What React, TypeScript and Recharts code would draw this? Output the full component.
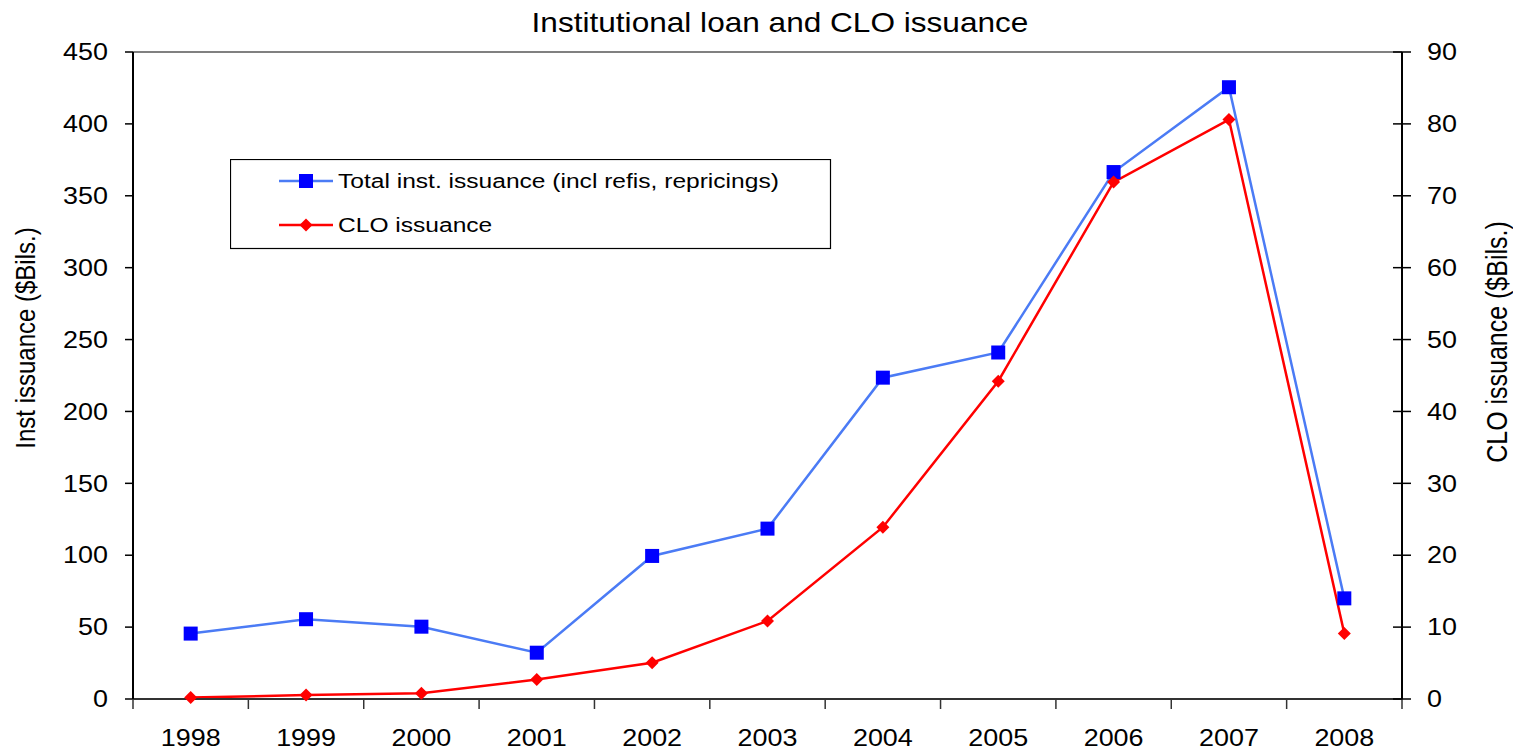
import { LineChart, Line, XAxis, YAxis, Legend, ReferenceLine } from 'recharts';

const years = ['1998', '1999', '2000', '2001', '2002', '2003', '2004', '2005', '2006', '2007', '2008'];
// Total inst. issuance, left axis ($Bils.)
const instIssuance = [45.5, 55.5, 50.3, 32.2, 99.5, 118.5, 223.5, 241, 366.5, 425.5, 70];
// CLO issuance, right axis ($Bils.)
const cloIssuance = [0.2, 0.55, 0.8, 2.7, 5.05, 10.85, 23.9, 44.2, 71.9, 80.6, 9.1];
const leftTicks = [0, 50, 100, 150, 200, 250, 300, 350, 400, 450];
const rightTicks = [0, 10, 20, 30, 40, 50, 60, 70, 80, 90];
const legendOrder = ['inst', 'clo'];

const FONT = '"Liberation Sans", Arial, sans-serif';
const STRETCH = 1.17;
const BLUE_LINE = '#4B7BF5';
const BLUE_MARK = '#0000FF';
const RED = '#FF0000';

const chartData = years.map((year, i) => ({ x: i, year, inst: instIssuance[i], clo: cloIssuance[i] }));

// labels sit on the categories, tick marks sit between them
const xTicks = years.flatMap((_, i) => (i === 0 ? [-0.5, 0, 0.5] : [i, i + 0.5]));

function XTick(props: any) {
  const { x, y, payload } = props;
  const v = payload.value as number;
  if (!Number.isInteger(v)) {
    return <line x1={x} y1={y} x2={x} y2={y + 10} stroke="#333" strokeWidth={1.5} />;
  }
  return (
    <text transform={`translate(${x},${y + 47}) scale(${STRETCH},1)`} textAnchor="middle" fontFamily={FONT} fontSize={23} fill="#000">
      {years[v]}
    </text>
  );
}

function LeftTick(props: any) {
  const { x, y, payload } = props;
  return (
    <text transform={`translate(${x},${y}) scale(${STRETCH},1)`} textAnchor="end" dy="0.355em" fontFamily={FONT} fontSize={23} fill="#000">
      {payload.value}
    </text>
  );
}

function RightTick(props: any) {
  const { x, y, payload } = props;
  return (
    <g>
      <line x1={x - 34} y1={y} x2={x - 16} y2={y} stroke="#000" strokeWidth={1.5} />
      <text transform={`translate(${x},${y}) scale(${STRETCH},1)`} textAnchor="start" dy="0.355em" fontFamily={FONT} fontSize={23} fill="#000">
        {payload.value}
      </text>
    </g>
  );
}

function SquareDot(props: any) {
  const { cx, cy, index } = props;
  if (cx == null || cy == null) return <g key={`sq-${index}`} />;
  return <rect key={`sq-${index}`} x={cx - 7} y={cy - 7} width={14} height={14} fill={BLUE_MARK} />;
}

function DiamondDot(props: any) {
  const { cx, cy, index } = props;
  if (cx == null || cy == null) return <g key={`dm-${index}`} />;
  const r = 6.5;
  return <path key={`dm-${index}`} d={`M${cx},${cy - r}L${cx + r},${cy}L${cx},${cy + r}L${cx - r},${cy}Z`} fill={RED} />;
}

function LegendBox({ payload }: any) {
  const items = [...(payload || [])].sort(
    (a: any, b: any) => legendOrder.indexOf(a.dataKey) - legendOrder.indexOf(b.dataKey)
  );
  return (
    <svg width={602} height={91} style={{ display: 'block' }}>
      <rect x={0.5} y={0.5} width={600} height={89} fill="#fff" stroke="#000" strokeWidth={1.2} />
      {items.map((entry: any, i: number) => {
        const cy = 22 + i * 44;
        const isInst = entry.dataKey === 'inst';
        return (
          <g key={entry.value}>
            <line x1={49} y1={cy} x2={103} y2={cy} stroke={isInst ? BLUE_LINE : RED} strokeWidth={2.5} />
            {isInst ? (
              <rect x={69} y={cy - 7} width={14} height={14} fill={BLUE_MARK} />
            ) : (
              <path d={`M76,${cy - 6.5}L82.5,${cy}L76,${cy + 6.5}L69.5,${cy}Z`} fill={RED} />
            )}
            <text transform={`translate(108,${cy}) scale(${STRETCH},1)`} dy="0.355em" fontFamily={FONT} fontSize={21} fill="#000">
              {entry.value}
            </text>
          </g>
        );
      })}
    </svg>
  );
}

export default function App() {
  return (
    <div style={{ position: 'absolute', left: 0, top: 0, width: 1513, height: 751, background: '#fff', fontFamily: FONT }}>
      <LineChart width={1513} height={751} data={chartData} margin={{ top: 52, right: 0, left: 0, bottom: 0 }}>
        <XAxis
          dataKey="x"
          type="number"
          domain={[-0.5, 10.5]}
          ticks={xTicks}
          interval={0}
          height={52}
          tickSize={0}
          tickMargin={0}
          tickLine={false}
          tick={<XTick />}
          axisLine={{ stroke: '#333', strokeWidth: 2 }}
          allowDataOverflow
        />
        <YAxis
          yAxisId="left"
          orientation="left"
          domain={[0, 450]}
          ticks={leftTicks}
          interval={0}
          width={133}
          tickSize={8}
          tickMargin={17}
          tick={<LeftTick />}
          tickLine={{ stroke: '#000', strokeWidth: 1.5 }}
          axisLine={{ stroke: '#000', strokeWidth: 2 }}
        />
        <YAxis
          yAxisId="right"
          orientation="right"
          domain={[0, 90]}
          ticks={rightTicks}
          interval={0}
          width={111}
          tickSize={9}
          tickMargin={16}
          tick={<RightTick />}
          tickLine={false}
          axisLine={{ stroke: '#000', strokeWidth: 2 }}
        />
        <ReferenceLine yAxisId="left" y={450} stroke="#808080" strokeWidth={2} />
        <Legend
          layout="horizontal"
          verticalAlign="middle"
          align="center"
          content={<LegendBox />}
          wrapperStyle={{ left: 230, top: 159, width: 602, height: 91 }}
        />
        <Line
          yAxisId="left"
          dataKey="inst"
          name="Total inst. issuance (incl refis, repricings)"
          type="linear"
          stroke={BLUE_LINE}
          strokeWidth={2.5}
          dot={SquareDot}
          activeDot={false}
          isAnimationActive={false}
        />
        <Line
          yAxisId="right"
          dataKey="clo"
          name="CLO issuance"
          type="linear"
          stroke={RED}
          strokeWidth={2.5}
          dot={DiamondDot}
          activeDot={false}
          isAnimationActive={false}
        />
      </LineChart>
      <svg width={1513} height={751} style={{ position: 'absolute', left: 0, top: 0, pointerEvents: 'none' }}>
        <text transform={`translate(780,32) scale(${STRETCH},1)`} textAnchor="middle" fontFamily={FONT} fontSize={27} fill="#000">
          Institutional loan and CLO issuance
        </text>
        <text transform={`translate(25,338) rotate(-90) scale(1,${STRETCH})`} textAnchor="middle" dy="0.355em" fontFamily={FONT} fontSize={24} fill="#000">
          Inst issuance ($Bils.)
        </text>
        <text transform={`translate(1497,342) rotate(-90) scale(1,${STRETCH})`} textAnchor="middle" dy="0.355em" fontFamily={FONT} fontSize={25} fill="#000">
          CLO issuance ($Bils.)
        </text>
      </svg>
    </div>
  );
}
